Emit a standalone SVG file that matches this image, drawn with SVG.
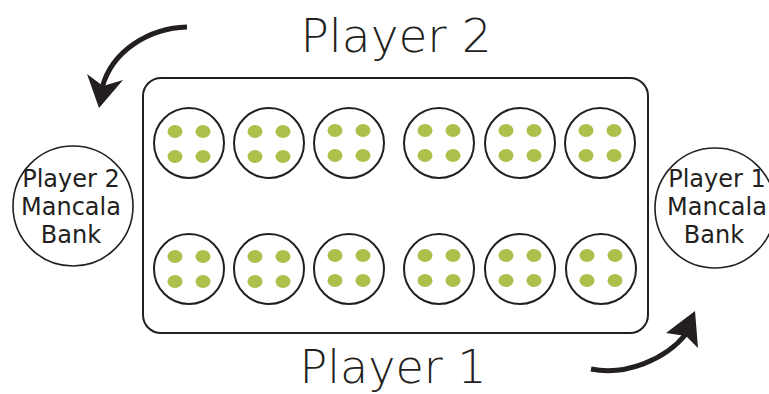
<svg xmlns="http://www.w3.org/2000/svg" width="769" height="394" viewBox="0 0 769 394">
<style>
.pit{fill:#fff;stroke:#231f20;stroke-width:2}
.seed{fill:#aebf4c}
.bank{fill:#fff;stroke:#231f20;stroke-width:1.6}
.lbl{font-family:"DejaVu Sans",sans-serif;font-size:24px;fill:#231f20;text-anchor:middle}
.title{font-family:"DejaVu Sans",sans-serif;font-weight:200;font-size:47px;fill:#231f20;text-anchor:middle}
.arc{fill:none;stroke:#231f20;stroke-width:5}
.head{fill:#231f20}
</style>
<defs>
<g id="seeds">
<ellipse class="seed" cx="-14" cy="-12.5" rx="7.5" ry="6.5"/>
<ellipse class="seed" cx="14" cy="-12.5" rx="7.5" ry="6.5"/>
<ellipse class="seed" cx="-14" cy="12.5" rx="7.5" ry="6.5"/>
<ellipse class="seed" cx="14" cy="12.5" rx="7.5" ry="6.5"/>
</g>
</defs>
<rect width="769" height="394" fill="#fff"/>
<g id="board">
<rect x="143" y="78" width="505" height="255" rx="18" fill="#fff" stroke="#231f20" stroke-width="2"/>
</g>
<g id="pits-top">
<g id="pit-t1"><circle class="pit" cx="189" cy="143" r="35"/><use href="#seeds" x="189" y="144"/></g>
<g id="pit-t2"><circle class="pit" cx="269" cy="143" r="35"/><use href="#seeds" x="269" y="144"/></g>
<g id="pit-t3"><circle class="pit" cx="349" cy="143" r="35"/><use href="#seeds" x="349" y="143"/></g>
<g id="pit-t4"><circle class="pit" cx="439" cy="143" r="35"/><use href="#seeds" x="439" y="143"/></g>
<g id="pit-t5"><circle class="pit" cx="520" cy="143" r="35"/><use href="#seeds" x="520" y="143"/></g>
<g id="pit-t6"><circle class="pit" cx="600" cy="143" r="35"/><use href="#seeds" x="600" y="143"/></g>
</g>
<g id="pits-bottom">
<g id="pit-b1"><circle class="pit" cx="189" cy="269" r="35"/><use href="#seeds" x="189" y="269"/></g>
<g id="pit-b2"><circle class="pit" cx="269" cy="269" r="35"/><use href="#seeds" x="269" y="269"/></g>
<g id="pit-b3"><circle class="pit" cx="349" cy="269" r="35"/><use href="#seeds" x="349" y="268"/></g>
<g id="pit-b4"><circle class="pit" cx="439" cy="269" r="35"/><use href="#seeds" x="439" y="268"/></g>
<g id="pit-b5"><circle class="pit" cx="520" cy="269" r="35"/><use href="#seeds" x="520" y="268"/></g>
<g id="pit-b6"><circle class="pit" cx="601" cy="269" r="35"/><use href="#seeds" x="601" y="268"/></g>
</g>
<g id="bank-p2">
<circle class="bank" cx="73" cy="206" r="60"/>
<text class="lbl" x="71" y="187">Player 2</text>
<text class="lbl" x="71" y="215">Mancala</text>
<text class="lbl" x="71" y="243">Bank</text>
</g>
<g id="bank-p1">
<circle class="bank" cx="715" cy="208" r="60"/>
<text class="lbl" x="717" y="187">Player 1</text>
<text class="lbl" x="717" y="215">Mancala</text>
<text class="lbl" x="714" y="243">Bank</text>
</g>
<g id="title-p2"><text class="title" x="396" y="52">Player 2</text></g>
<g id="title-p1"><text class="title" x="393" y="383" style="font-size:46px">Player 1</text></g>
<g id="connectors">
<path class="arc" d="M187,27 C150,28 112,50 102,88"/>
<path class="head" d="M99,108 L87,74 L103,86 L123,80 Z"/>
<path class="arc" d="M591,369 C625,376 665,360 686,334"/>
<path class="head" d="M695,311 L666,333 L686,336 L698,348 Z"/>
</g>
</svg>
